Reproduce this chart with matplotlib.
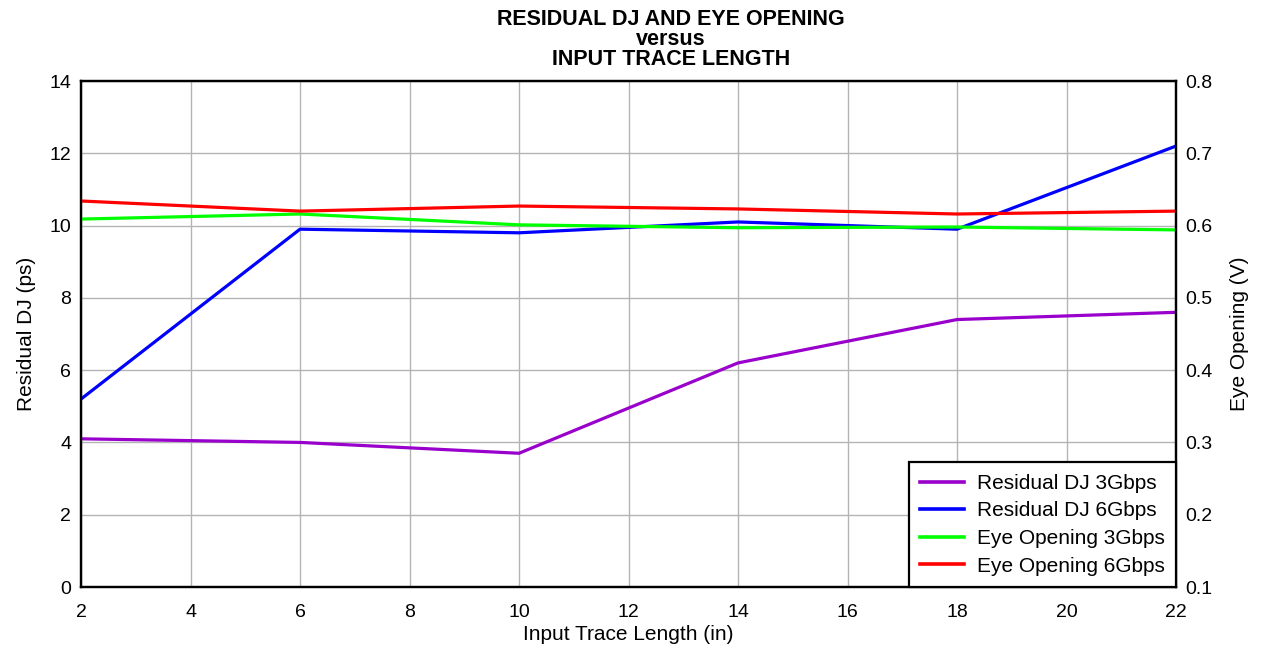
import matplotlib
matplotlib.use("Agg")
import matplotlib.pyplot as plt

plt.rcParams['font.family'] = ['Liberation Sans', 'DejaVu Sans']

# data
trace_len = [2, 6, 10, 14, 18, 22]
dj_3g = [4.1, 4.0, 3.7, 6.2, 7.4, 7.6]
dj_6g = [5.2, 9.9, 9.8, 10.1, 9.9, 12.2]
eye_3g = [0.609, 0.616, 0.601, 0.597, 0.598, 0.594]
eye_6g = [0.634, 0.620, 0.627, 0.623, 0.616, 0.620]

x_ticks = list(range(2, 23, 2))
left_ticks = list(range(0, 15, 2))
right_ticks = [0.1, 0.2, 0.3, 0.4, 0.5, 0.6, 0.7, 0.8]

fig = plt.figure(figsize=(12.63, 6.49), dpi=100)
ax1 = fig.add_axes([81 / 1263, 1 - 587 / 649, (1176 - 81) / 1263, (587 - 81) / 649])
ax2 = ax1.twinx()

lw = 2.3
l1, = ax1.plot(trace_len, dj_3g, color='#9900CC', lw=lw, label='Residual DJ 3Gbps')
l2, = ax1.plot(trace_len, dj_6g, color='#0000FF', lw=lw, label='Residual DJ 6Gbps')
l3, = ax2.plot(trace_len, eye_3g, color='#00FF00', lw=lw, label='Eye Opening 3Gbps')
l4, = ax2.plot(trace_len, eye_6g, color='#FF0000', lw=lw, label='Eye Opening 6Gbps')

ax1.set_xlim(2, 22)
ax1.set_ylim(0, 14)
ax2.set_ylim(0.1, 0.8)
ax1.set_xticks(x_ticks)
ax1.set_yticks(left_ticks)
ax2.set_yticks(right_ticks)
ax2.set_yticklabels([f'{v:.1f}' for v in right_ticks])

ax1.grid(True, color='#b4b4b4', lw=1)
ax1.set_axisbelow(True)

for ax in (ax1, ax2):
    ax.tick_params(axis='y', length=0, labelsize=14, pad=7)
    for s in ax.spines.values():
        s.set_linewidth(1.6)
        s.set_color('black')
ax1.tick_params(axis='x', length=0, labelsize=14, pad=12)

ax1.set_xlabel('Input Trace Length (in)', fontsize=15, labelpad=3)
ax1.set_ylabel('Residual DJ (ps)', fontsize=15, labelpad=10)
ax2.set_ylabel('Eye Opening (V)', fontsize=15, labelpad=12, rotation=90)

fig.text(671 / 1263, 0.986, 'RESIDUAL DJ AND EYE OPENING\nversus\nINPUT TRACE LENGTH',
         ha='center', va='top', fontsize=15.5, fontweight='bold', linespacing=0.93)

leg = ax2.legend(handles=[l1, l2, l3, l4], loc='lower right', fontsize=15,
                 frameon=True, fancybox=False, framealpha=1, edgecolor='black',
                 borderaxespad=0, handlelength=2.1, labelspacing=0.41,
                 borderpad=0.55, handletextpad=0.6)
leg.get_frame().set_linewidth(1.6)
for h in leg.get_lines():
    h.set_linewidth(2.6)

fig.savefig('out.png', dpi=100)
